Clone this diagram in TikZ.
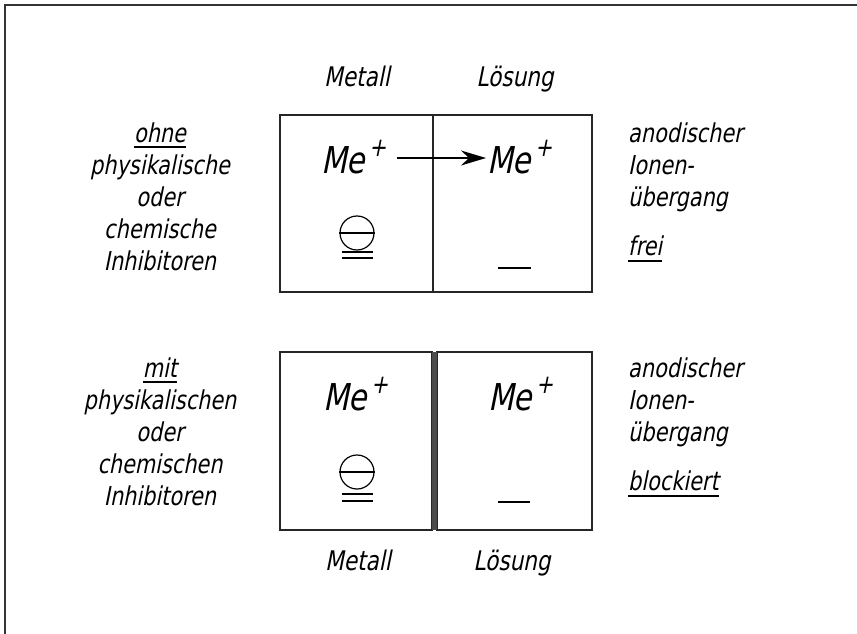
\documentclass[tikz,border=0pt]{standalone}
\usepackage{fontspec}
\usetikzlibrary{arrows.meta,positioning}
\newfontfamily\din{DejaVu Sans}[FakeStretch=0.8,FakeSlant=0.2]
\newcommand{\plussup}{\kern4pt\raisebox{0.45em}{\fontsize{26}{26}\selectfont +}}
\begin{document}
\begin{tikzpicture}[x=1pt,y=-1pt,
  frame/.style={line width=1.2pt,black!80},
  cell/.style={draw,line width=1.2pt,black!85},
  lbl/.style={font=\din\fontsize{27}{27}\selectfont,inner sep=0pt,anchor=base},
  sidel/.style={font=\din\fontsize{26}{26}\selectfont,inner sep=0pt,anchor=base},
  sider/.style={font=\din\fontsize{26}{26}\selectfont,inner sep=0pt,anchor=base west},
  ion/.style={font=\din\fontsize{37}{37}\selectfont,inner sep=0pt,anchor=base west},
  ul/.style={line width=1.2pt},
  eminus/.style={circle,draw,line width=1.2pt,minimum size=34pt,inner sep=0pt}]
\useasboundingbox (0,0) rectangle (857,634);
% scan frame
\draw[frame] (5,634) -- (5,5) -- (857,5);
% top cells
\draw[cell] (280,115) rectangle (433,292);
\draw[cell] (433,115) rectangle (592,292);
% bottom cells
\draw[cell] (280,352) rectangle (432,530);
\draw[cell] (437,352) rectangle (592,530);
\fill[black!70] (432,352) rectangle (437,530);
% column labels
\node[lbl] (m1) at (357,86) {Metall};
\node[lbl] (l1) at (515,86) {Lösung};
\node[lbl] (m2) at (358,570) {Metall};
\node[lbl] (l2) at (512,570) {Lösung};
% top ions
\node[ion] (ia) at (321,173) {Me\plussup};
\node[ion] (ib) at (487,173) {Me\plussup};
\coordinate (as) at (397,158);
\coordinate (ae) at (486,158);
\draw[line width=1.4pt,-{Stealth[length=25pt,width=15pt,inset=8pt]}] (as) -- (ae);
\node[eminus] (e1) at (357,233) {};
\draw[line width=1.2pt] (e1.west) -- (e1.east);
\draw[ul] (342,252) -- (373,252);
\draw[ul] (342,258) -- (373,258);
\draw[ul] (498,268) -- (531,268);
% bottom ions
\node[ion] (ic) at (323,410) {Me\plussup};
\node[ion] (id) at (488,410) {Me\plussup};
\node[eminus] (e2) at (357,472) {};
\draw[line width=1.2pt] (e2.west) -- (e2.east);
\draw[ul] (342,494) -- (373,494);
\draw[ul] (342,501) -- (373,501);
\draw[ul] (498,502) -- (530,502);
% left texts top
\node[sidel] (t1) at (160,142) {ohne};
\draw[ul] ([yshift=-5pt]t1.base west) -- ([yshift=-5pt]t1.base east);
\node[sidel] (t2) at (160,174) {physikalische};
\node[sidel] (t3) at (160,206) {oder};
\node[sidel] (t4) at (160,238) {chemische};
\node[sidel] (t5) at (160,270) {Inhibitoren};
% left texts bottom
\node[sidel] (u1) at (160,377) {mit};
\draw[ul] ([yshift=-5pt]u1.base west) -- ([yshift=-5pt]u1.base east);
\node[sidel] (u2) at (160,409) {physikalischen};
\node[sidel] (u3) at (160,441) {oder};
\node[sidel] (u4) at (160,473) {chemischen};
\node[sidel] (u5) at (160,505) {Inhibitoren};
% right texts top
\node[sider] (r1) at (628,142) {anodischer};
\node[sider] (r2) at (628,174) {Ionen-};
\node[sider] (r3) at (628,206) {übergang};
\node[sider] (r4) at (628,255) {frei};
\draw[ul] ([yshift=-6pt]r4.base west) -- ([yshift=-6pt]r4.base east);
% right texts bottom
\node[sider] (s1) at (628,377) {anodischer};
\node[sider] (s2) at (628,409) {Ionen-};
\node[sider] (s3) at (628,441) {übergang};
\node[sider] (s4) at (628,490) {blockiert};
\draw[ul] ([yshift=-6pt]s4.base west) -- ([yshift=-6pt]s4.base east);
\end{tikzpicture}
\end{document}
